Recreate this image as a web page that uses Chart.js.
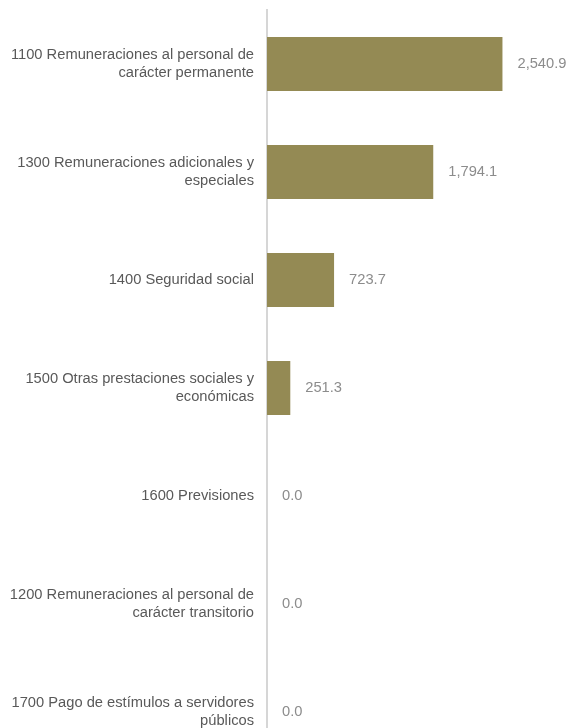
<!DOCTYPE html>
<html>
<head>
<meta charset="utf-8">
<script src="https://cdn.jsdelivr.net/npm/chart.js@4/dist/chart.umd.min.js"></script>
<style>
  html, body { margin: 0; padding: 0; background: #fff; overflow: hidden; }
  #wrap { position: relative; width: 570px; height: 776px; }
</style>
</head>
<body>
<div id="wrap"><canvas id="chart"></canvas></div>
<script>
// partidas del capitulo 1000
const categories = [
  ["1100 Remuneraciones al personal de", "carácter permanente"],
  ["1300 Remuneraciones adicionales y", "especiales"],
  "1400 Seguridad social",
  ["1500 Otras prestaciones sociales y", "económicas"],
  "1600 Previsiones",
  ["1200 Remuneraciones al personal de", "carácter transitorio"],
  ["1700 Pago de estímulos a servidores", "públicos"]
];
const amounts = [2540.9, 1794.1, 723.7, 251.3, 0.0, 0.0, 0.0];

const fmt = v => v.toLocaleString("en-US", { minimumFractionDigits: 1, maximumFractionDigits: 1 });
const FONT = "'Liberation Sans', Arial, sans-serif";

// etiquetas de valor a la derecha de cada barra
const valueLabels = {
  id: "valueLabels",
  afterDatasetsDraw(chart) {
    const ctx = chart.ctx;
    const meta = chart.getDatasetMeta(0);
    ctx.save();
    ctx.font = "14.7px " + FONT;
    ctx.fillStyle = "#8c8c8c";
    ctx.textAlign = "left";
    ctx.textBaseline = "middle";
    meta.data.forEach((bar, i) => {
      ctx.fillText(fmt(amounts[i]), bar.x + 15, bar.y);
    });
    ctx.restore();
  }
};

new Chart(document.getElementById("chart"), {
  type: "bar",
  data: {
    labels: categories,
    datasets: [{
      data: amounts,
      backgroundColor: "#948a54",
      borderWidth: 0,
      categoryPercentage: 1,
      barPercentage: 0.5
    }]
  },
  options: {
    indexAxis: "y",
    responsive: true,
    maintainAspectRatio: false,
    animation: false,
    layout: { padding: { top: 10, bottom: 10, left: 0, right: 25 } },
    plugins: { legend: { display: false }, tooltip: { enabled: false } },
    scales: {
      x: {
        display: false,
        min: 0,
        max: 3000
      },
      y: {
        afterFit(scale) {
          scale.width = 267;
          scale.paddingTop = 0;
          scale.paddingBottom = 0;
        },
        grid: { display: false, drawTicks: false },
        border: { display: true, color: "#d6d6d6", width: 2 },
        ticks: {
          padding: 13,
          color: "#595959",
          font: { family: FONT, size: 14.7, lineHeight: 1.2 }
        }
      }
    }
  },
  plugins: [valueLabels]
});
</script>
</body>
</html>
